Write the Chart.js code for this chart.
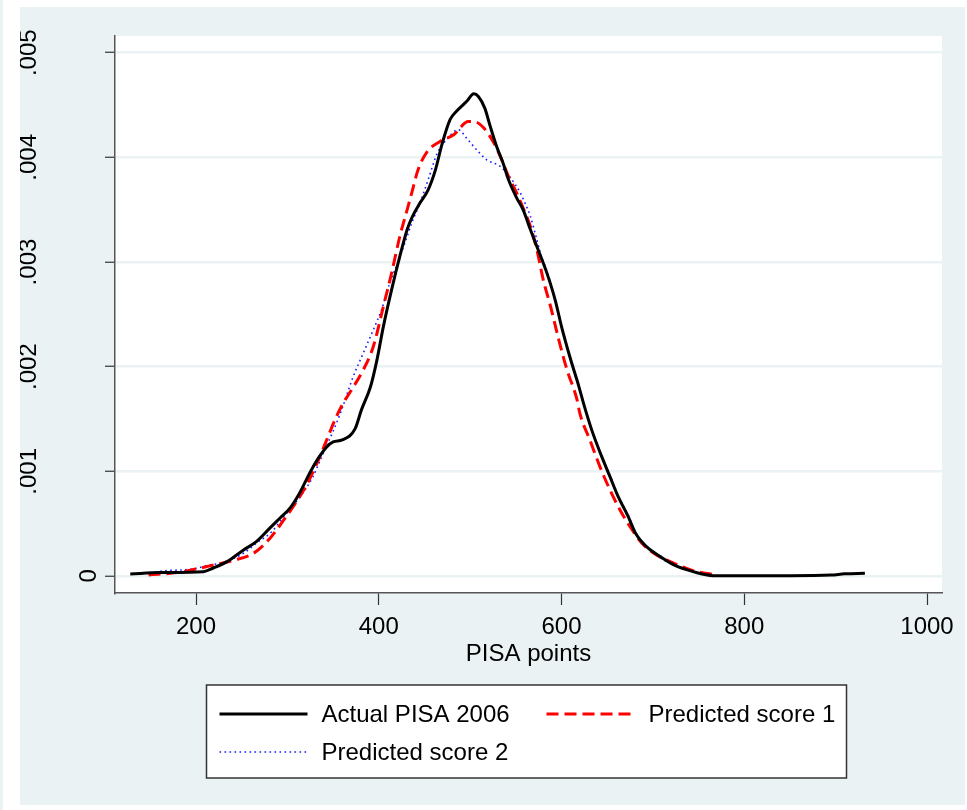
<!DOCTYPE html>
<html>
<head>
<meta charset="utf-8">
<script src="https://cdn.jsdelivr.net/npm/chart.js@4.4.1/dist/chart.umd.min.js"></script>
<style>
  html, body { margin: 0; padding: 0; background: #ffffff; }
  #wrap { position: relative; width: 967px; height: 810px; }
</style>
</head>
<body>
<div id="wrap"><canvas id="densityChart" width="967" height="810"></canvas></div>
<script>
// Kernel density estimates
const actualX = [128, 161, 208, 219, 234, 252, 266, 281, 292, 303, 314, 325, 334, 343, 350, 360, 374, 381, 391, 398, 405, 414, 423, 431, 436, 445, 454, 462, 469, 478, 485, 496, 504, 509, 516, 522, 529, 536, 542, 551, 558, 566, 573, 584, 593, 600, 609, 619, 624, 633, 644, 653, 662, 673, 681, 693, 708, 723, 744, 766, 800, 850, 895, 910, 932];
const actualY = [0.000019, 0.000032, 0.000041, 0.000076, 0.000137, 0.000249, 0.000328, 0.000459, 0.000554, 0.00065, 0.000803, 0.000994, 0.001128, 0.001233, 0.001281, 0.0013, 0.001405, 0.001587, 0.00181, 0.002065, 0.002383, 0.002734, 0.003053, 0.003308, 0.00342, 0.003563, 0.00369, 0.003881, 0.00412, 0.00436, 0.00444, 0.004534, 0.004608, 0.004582, 0.004471, 0.004296, 0.004104, 0.003946, 0.003786, 0.003611, 0.003499, 0.003308, 0.003148, 0.002894, 0.002639, 0.002383, 0.002097, 0.00181, 0.001651, 0.001396, 0.00114, 0.000949, 0.000758, 0.000567, 0.000408, 0.00028, 0.000185, 0.000105, 0.000041, 0.000003, 0.000002, 0.000002, 0.000008, 0.00002, 0.000025];

const pred1X = [148, 179, 204, 215, 241, 263, 281, 296, 310, 321, 334, 343, 352, 361, 369, 383, 394, 405, 414, 423, 431, 436, 443, 453, 467, 482, 498, 504, 515, 526, 533, 542, 551, 558, 566, 573, 580, 588, 597, 606, 617, 620, 631, 642, 653, 664, 675, 688, 704, 723, 744, 770];
const pred1Y = [0.00001, 0.000032, 0.000074, 0.000096, 0.000149, 0.000217, 0.00036, 0.000535, 0.00071, 0.00087, 0.001109, 0.0013, 0.001491, 0.001651, 0.001762, 0.001969, 0.002192, 0.002575, 0.002894, 0.003244, 0.003499, 0.003659, 0.003881, 0.004056, 0.004152, 0.004216, 0.004343, 0.004343, 0.00428, 0.004137, 0.004009, 0.003817, 0.003659, 0.003515, 0.003339, 0.003117, 0.00283, 0.002575, 0.002256, 0.001969, 0.001683, 0.001555, 0.0013, 0.001045, 0.000822, 0.000631, 0.000471, 0.000313, 0.000201, 0.000121, 0.000051, 0.00001];

const pred2X = [150, 164, 197, 215, 226, 252, 266, 283, 296, 314, 328, 336, 349, 358, 372, 383, 394, 403, 412, 422, 431, 436, 445, 454, 464, 474, 487, 496, 507, 518, 533, 544, 555, 560, 566, 573, 577, 586, 593, 602, 611, 620, 624, 633, 644, 653, 662, 673, 681, 686, 701, 719, 744, 759];
const pred2Y = [0.00003, 0.000048, 0.000067, 0.000105, 0.000121, 0.000217, 0.000313, 0.000424, 0.000567, 0.000758, 0.000949, 0.001109, 0.001364, 0.001555, 0.001905, 0.002129, 0.002352, 0.002543, 0.002798, 0.003021, 0.003244, 0.003372, 0.003563, 0.003786, 0.004041, 0.004168, 0.004264, 0.004184, 0.004073, 0.003977, 0.003913, 0.003805, 0.003659, 0.003563, 0.003435, 0.003212, 0.003085, 0.002861, 0.002639, 0.00232, 0.002033, 0.001778, 0.001651, 0.0014, 0.00115, 0.00096, 0.00077, 0.00058, 0.00042, 0.000344, 0.000217, 0.000121, 0.000041, 0.00001];

const xTicks = [200, 400, 600, 800, 1000];
const yTicks = [0, 0.001, 0.002, 0.003, 0.004, 0.005];
const yTickLabels = ["0", ".001", ".002", ".003", ".004", ".005"];
const seriesNames = ["Actual PISA 2006", "Predicted score 1", "Predicted score 2"];

const PANEL = "#eaf2f3";
const FONT = "'Liberation Sans', Arial, sans-serif";

function toPoints(xs, ys) {
  return xs.map((x, i) => ({ x: x, y: ys[i] }));
}

// Stata-like background: light panel, white plot region
const backgroundPlugin = {
  id: "background",
  beforeDraw(chart) {
    const ctx = chart.ctx;
    const a = chart.chartArea;
    ctx.save();
    ctx.fillStyle = "#ffffff";
    ctx.fillRect(0, 0, chart.width, chart.height);
    ctx.fillStyle = PANEL;
    ctx.fillRect(0, 0, 3, chart.height);
    ctx.fillRect(20, 7, 945, 798);
    ctx.fillStyle = "#ffffff";
    ctx.fillRect(a.left, a.top, a.right - a.left, a.bottom - a.top);
    ctx.restore();
  },
};

// Vertical y labels, clipped to the panel
const yLabelPlugin = {
  id: "yLabels",
  afterDraw(chart) {
    const ctx = chart.ctx;
    const scale = chart.scales.y;
    ctx.save();
    ctx.beginPath();
    ctx.rect(20, 7, 945, 798);
    ctx.clip();
    ctx.font = "24px " + FONT;
    ctx.fillStyle = "#000";
    ctx.textAlign = "center";
    ctx.textBaseline = "middle";
    yTicks.forEach((v, i) => {
      const label = yTickLabels[i];
      const y = scale.getPixelForValue(v);
      const x = scale.right - (label.length > 1 ? 87 : 27);
      ctx.save();
      ctx.translate(x, y);
      ctx.rotate(-Math.PI / 2);
      ctx.fillText(label, 0, 1);
      ctx.restore();
    });
    ctx.restore();
  },
};

// Boxed legend, two columns
const legendPlugin = {
  id: "boxLegend",
  afterDraw(chart) {
    const ctx = chart.ctx;
    const a = chart.chartArea;
    const cx = (a.left + a.right) / 2;
    const left = cx - 322, top = 685, w = 640, h = 93;
    ctx.save();
    ctx.fillStyle = "#ffffff";
    ctx.fillRect(left, top, w, h);
    ctx.strokeStyle = "#333";
    ctx.lineWidth = 1.5;
    ctx.strokeRect(left, top, w, h);
    const slots = [
      { x: left + 13, y: top + 29 },
      { x: left + 340, y: top + 29 },
      { x: left + 13, y: top + 67 },
    ];
    ctx.font = "24px " + FONT;
    ctx.textBaseline = "middle";
    ctx.textAlign = "left";
    chart.data.datasets.forEach((ds, i) => {
      const s = slots[i];
      ctx.beginPath();
      ctx.strokeStyle = ds.borderColor;
      ctx.lineWidth = ds.borderWidth;
      ctx.setLineDash(ds.borderDash || []);
      ctx.moveTo(s.x, s.y);
      ctx.lineTo(s.x + 88, s.y);
      ctx.stroke();
      ctx.setLineDash([]);
      ctx.fillStyle = "#000";
      ctx.fillText(ds.label, s.x + 102, s.y + 1);
    });
    ctx.restore();
  },
};

function renderChart() {
  const ctx = document.getElementById("densityChart").getContext("2d");

  new Chart(ctx, {
    type: "line",
    data: {
      datasets: [
        {
          label: seriesNames[0],
          data: toPoints(actualX, actualY),
          borderColor: "#000000",
          borderWidth: 3,
          cubicInterpolationMode: "monotone",
          order: 1,
        },
        {
          label: seriesNames[1],
          data: toPoints(pred1X, pred1Y),
          borderColor: "#ff0000",
          borderWidth: 3,
          borderDash: [12, 6],
          cubicInterpolationMode: "monotone",
          order: 2,
        },
        {
          label: seriesNames[2],
          data: toPoints(pred2X, pred2Y),
          borderColor: "#1a1aff",
          borderWidth: 1.6,
          borderDash: [1.6, 3.4],
          cubicInterpolationMode: "monotone",
          order: 3,
        },
      ],
    },
    options: {
      responsive: false,
      animation: false,
      devicePixelRatio: 1,
      elements: { point: { radius: 0 } },
      layout: { padding: { top: 36, right: 25, left: 0, bottom: 137 } },
      plugins: {
        legend: { display: false },
        tooltip: { enabled: false },
      },
      scales: {
        x: {
          type: "linear",
          min: 111.3,
          max: 1016.4,
          afterBuildTicks: (scale) => { scale.ticks = xTicks.map((v) => ({ value: v })); },
          afterFit: (scale) => { scale.height = 80; },
          ticks: {
            font: { family: FONT, size: 24 },
            color: "#000",
            padding: 8,
            maxRotation: 0,
            callback: (v) => String(v),
          },
          grid: {
            drawOnChartArea: false,
            tickLength: 12,
            tickColor: "#333",
            tickWidth: 1.2,
          },
          border: { color: "#555", width: 1.5 },
          title: {
            display: true,
            text: "PISA points",
            font: { family: FONT, size: 24 },
            color: "#000",
            padding: { top: 0 },
          },
        },
        y: {
          min: -0.000163,
          max: 0.00516,
          afterBuildTicks: (scale) => { scale.ticks = yTicks.map((v) => ({ value: v })); },
          afterFit: (scale) => { scale.width = 115; },
          ticks: { display: false },
          grid: {
            color: PANEL,
            lineWidth: 2.5,
            tickLength: 10,
            tickColor: "#333",
            tickWidth: 1.2,
          },
          border: { color: "#555", width: 1.5 },
        },
      },
    },
    plugins: [backgroundPlugin, yLabelPlugin, legendPlugin],
  });
}

renderChart();
</script>
</body>
</html>
